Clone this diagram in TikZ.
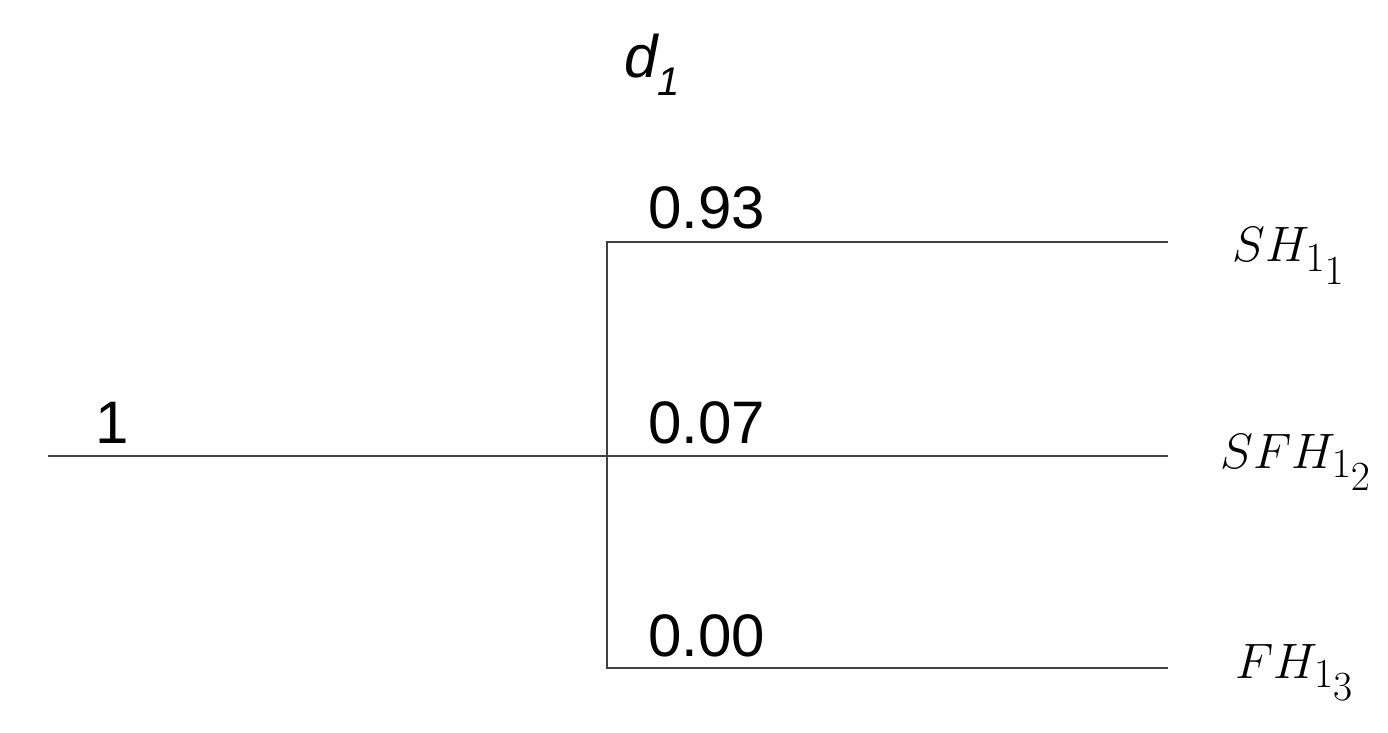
\documentclass[tikz,border=0pt]{standalone}
\usepackage{fontspec}
\newfontfamily\arialfont{Liberation Sans}
\begin{document}
\begin{tikzpicture}[x=0.5pt,y=-0.5pt,
  branch/.style={draw=black!75,line width=1.1pt},
  prob/.style={anchor=base west,inner sep=0pt,font=\arialfont\fontsize{30}{34}\selectfont},
  outc/.style={anchor=base west,inner sep=0pt,font=\fontsize{30}{34}\selectfont}]
\useasboundingbox (0,0) rectangle (1388,733);
\coordinate (root) at (48,456);
\coordinate (split) at (607,456);
\coordinate (top) at (607,242);
\coordinate (bot) at (607,668);
\coordinate (e1) at (1168,242);
\coordinate (e2) at (1168,456);
\coordinate (e3) at (1168,668);
\draw[branch] (root) -- (split) -- (e2);
\draw[branch] (e1) -- (top) -- (bot) -- (e3);
\node[prob] (p0) at (95,443) {1};
\node[prob] (p1) at (648,228) {0.93};
\node[prob] (p2) at (648,443) {0.07};
\node[prob] (p3) at (648,656) {0.00};
\node[anchor=base west,inner sep=0pt,font=\arialfont\itshape\fontsize{30}{34}\selectfont] (d) at (624,78) {d\raisebox{-0.3em}{\fontsize{20}{22}\selectfont 1}};
\node[outc] (o1) at (1232,262) {$SH_{1_{\scriptstyle 1}}$};
\node[outc] (o2) at (1220,468) {$SFH_{1_{\scriptstyle 2}}$};
\node[outc] (o3) at (1235,678) {$FH_{1_{\scriptstyle 3}}$};
\end{tikzpicture}
\end{document}
